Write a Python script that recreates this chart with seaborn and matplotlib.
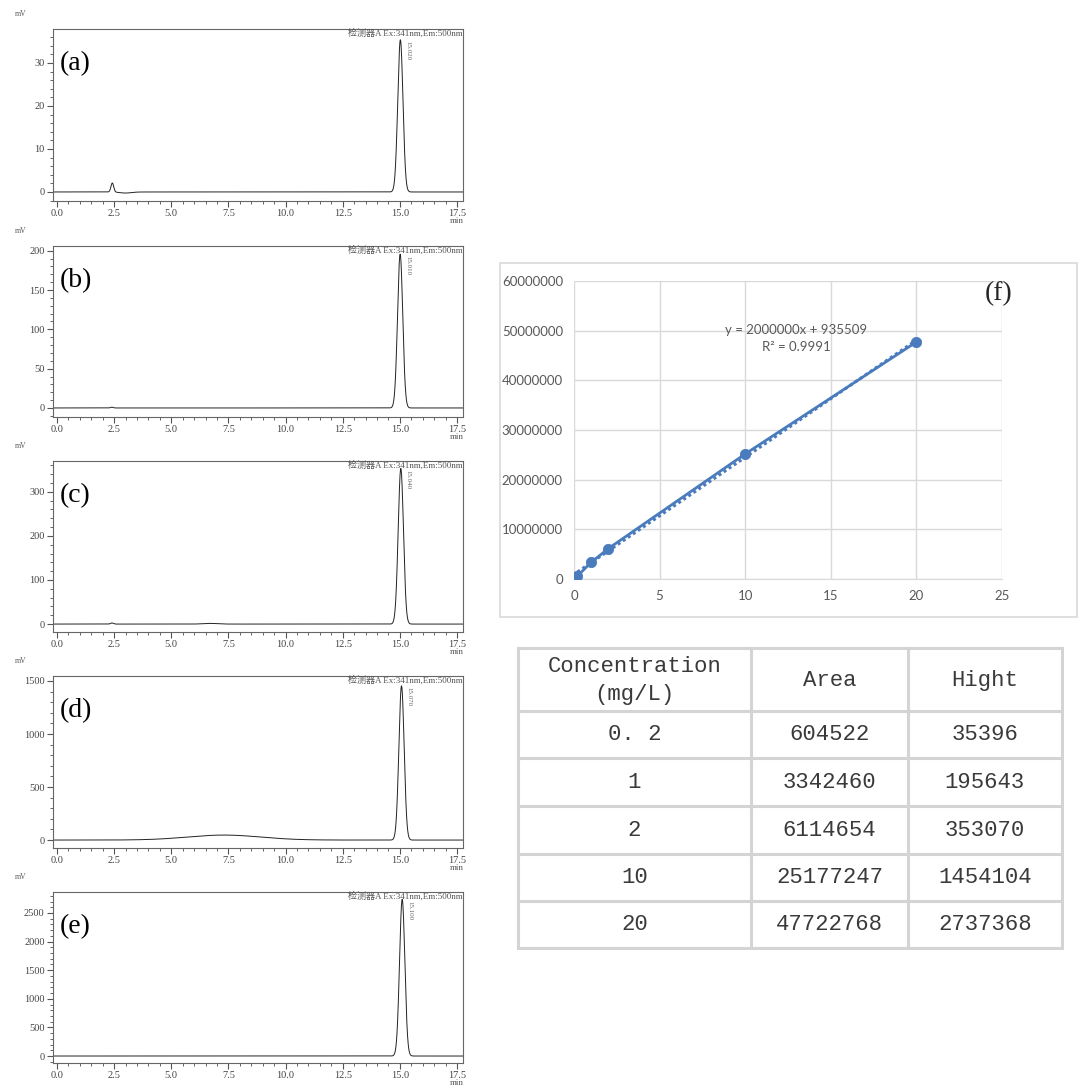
import numpy as np
import pandas as pd
import matplotlib
matplotlib.use("Agg")
import matplotlib.pyplot as plt
from matplotlib.ticker import MultipleLocator, FuncFormatter
from matplotlib.patches import Rectangle
import seaborn as sns

sns.set_style("white")
plt.rcParams["font.family"] = ["Liberation Serif", "Noto Sans CJK SC", "DejaVu Sans"]

# ---------------- calibration data ----------------
conc = [0.2, 1, 2, 10, 20]                                   # mg/L
area = [604522, 3342460, 6114654, 25177247, 47722768]        # uV*s
height = [35396, 195643, 353070, 1454104, 2737368]           # uV

panel_tags = ["(a)", "(b)", "(c)", "(d)", "(e)"]
retention = [15.02, 15.01, 15.04, 15.07, 15.10]              # min
# minor peaks per chromatogram: (retention min, height mV, sigma min)
minor_peaks = [
    [(2.42, 2.1, 0.06), (3.0, -0.25, 0.25)],
    [(2.40, 1.0, 0.06)],
    [(2.40, 2.5, 0.06), (6.7, 1.5, 0.3)],
    [(7.3, 47.0, 1.6)],
    [],
]
y_limits = [(-2.1, 37.9), (-11.5, 206), (-18, 370), (-75, 1547), (-122, 2867)]
y_major = [10, 50, 100, 500, 500]
y_minor = [2, 10, 20, 100, 100]
detector_text = "检测器A Ex:341nm,Em:500nm"

trend_text = "y = 2000000x + 935509\nR² = 0.9991"
table_header = ["Concentration\n(mg/L)", "Area", "Hight"]

W, H = 1078, 1085
fig = plt.figure(figsize=(W / 100, H / 100), dpi=100)

def fig_rect(x0, y0, x1, y1):
    return [x0 / W, 1 - y1 / H, (x1 - x0) / W, (y1 - y0) / H]

# ---------------- chromatograms ----------------
tops = [29, 246, 461, 676, 892]
bottoms = [201, 417, 632, 848, 1063]
x_lo, x_hi = -0.175, 17.76
t = np.linspace(x_lo, x_hi, 5000)

for i in range(5):
    ax = fig.add_axes(fig_rect(53, tops[i], 463, bottoms[i]))
    h_mv = height[i] / 1000.0
    sigma = area[i] / height[i] / np.sqrt(2 * np.pi) / 60.0   # seconds -> minutes
    sig = h_mv * np.exp(-0.5 * ((t - retention[i]) / sigma) ** 2)
    for rt, hh, ss in minor_peaks[i]:
        sig = sig + hh * np.exp(-0.5 * ((t - rt) / ss) ** 2)
    df = pd.DataFrame({"time": t, "signal": sig})
    sns.lineplot(data=df, x="time", y="signal", ax=ax, color="#222222",
                 linewidth=0.7, estimator=None)
    ax.set_xlim(x_lo, x_hi)
    ax.set_ylim(*y_limits[i])
    ax.set_xlabel("")
    ax.set_ylabel("")
    ax.xaxis.set_major_locator(MultipleLocator(2.5))
    ax.xaxis.set_minor_locator(MultipleLocator(0.5))
    ax.yaxis.set_major_locator(MultipleLocator(y_major[i]))
    ax.yaxis.set_minor_locator(MultipleLocator(y_minor[i]))
    ax.xaxis.set_major_formatter(FuncFormatter(lambda v, p: f"{v:.1f}"))
    ax.tick_params(axis="both", which="both", bottom=True, left=True,
                   top=False, right=False)
    ax.tick_params(axis="both", which="major", direction="out", length=4,
                   width=0.8, color="#555555", labelsize=7.5, labelcolor="#444444", pad=2)
    ax.tick_params(axis="both", which="minor", direction="out", length=2.5,
                   width=0.7, color="#666666")
    for s in ax.spines.values():
        s.set_color("#666666")
        s.set_linewidth(0.8)
    ax.text(-0.093, 1.088, "mV", transform=ax.transAxes, fontsize=5.5,
            color="#555555", ha="left", va="center")
    ax.text(0.985, -0.115, "min", transform=ax.transAxes, fontsize=6.5,
            color="#555555", ha="center", va="center")
    ax.text(1.0, 0.975, detector_text, transform=ax.transAxes, fontsize=6.5,
            color="#555555", ha="right", va="center")
    ax.text(retention[i] + 0.22, h_mv * 0.99, f"{retention[i]:.3f}", rotation=270,
            fontsize=5, color="#666666", ha="left", va="top")
    ax.text(0.017, 0.80, panel_tags[i], transform=ax.transAxes, fontsize=20,
            color="black", ha="left", va="center")

# ---------------- calibration curve (f) ----------------
fig.add_artist(Rectangle((500 / W, 1 - 617 / H), (1077 - 500) / W, (617 - 263) / H,
                         transform=fig.transFigure, fill=False,
                         edgecolor="#d9d9d9", linewidth=1.2))
axf = fig.add_axes(fig_rect(574, 281, 1002, 579))
blue = "#4a7cbd"
cal = pd.DataFrame({"conc": conc, "area": area})
sns.regplot(data=cal, x="conc", y="area", ax=axf, ci=None, scatter=False,
            line_kws={"color": blue, "linestyle": (0, (1, 1)), "linewidth": 2.2})
sns.lineplot(data=cal, x="conc", y="area", ax=axf, color=blue, linewidth=2,
             estimator=None)
sns.scatterplot(data=cal, x="conc", y="area", ax=axf, color=blue, s=55,
                edgecolor=blue, zorder=5)
axf.set_xlim(0, 25)
axf.set_ylim(0, 60000000)
axf.set_xticks(np.arange(0, 26, 5))
axf.set_yticks(np.arange(0, 60000001, 10000000))
axf.yaxis.set_major_formatter(FuncFormatter(lambda v, p: f"{v:.0f}"))
axf.set_xlabel("")
axf.set_ylabel("")
axf.grid(True, color="#d9d9d9", linewidth=1)
axf.set_axisbelow(True)
for name, s in axf.spines.items():
    s.set_visible(name == "bottom")
    s.set_color("#d9d9d9")
axf.tick_params(axis="both", length=0, labelsize=9.5, labelcolor="#595959", pad=8)
for lab in axf.get_xticklabels() + axf.get_yticklabels():
    lab.set_family("Lato")
axf.text(13.0, 48500000, trend_text, fontsize=9.5, color="#595959",
         family="Lato", ha="center", va="center", linespacing=1.5)
fig.text(985 / W, 1 - 294 / H, "(f)", fontsize=20, ha="left", va="center")

# ---------------- data table ----------------
col_edges = [518, 751, 908, 1062]
row_edges = [648, 711, 758, 806, 854, 901, 948]
axt = fig.add_axes(fig_rect(col_edges[0] - 2, row_edges[0] - 2,
                            col_edges[-1] + 2, row_edges[-1] + 2))
axt.set_xlim(col_edges[0] - 2, col_edges[-1] + 2)
axt.set_ylim(row_edges[-1] + 2, row_edges[0] - 2)
axt.axis("off")
for x in col_edges:
    axt.plot([x, x], [row_edges[0], row_edges[-1]], color="#d4d4d4", lw=2.2,
             solid_capstyle="projecting")
for y in row_edges:
    axt.plot([col_edges[0], col_edges[-1]], [y, y], color="#d4d4d4", lw=2.2,
             solid_capstyle="projecting")

centers_x = [(col_edges[k] + col_edges[k + 1]) / 2 for k in range(3)]
centers_y = [(row_edges[k] + row_edges[k + 1]) / 2 for k in range(6)]
for k, txt in enumerate(table_header):
    axt.text(centers_x[k], centers_y[0] + 1, txt, family="Liberation Mono",
             fontsize=16, color="#3a3a3a", ha="center", va="center",
             linespacing=1.45)
for r in range(5):
    row = [f"{conc[r]:g}".replace("0.2", "0. 2"), str(area[r]), str(height[r])]
    for k, txt in enumerate(row):
        axt.text(centers_x[k], centers_y[r + 1], txt, family="Liberation Mono",
                 fontsize=16, color="#3a3a3a", ha="center", va="center")

fig.savefig("out.png", dpi=100)
